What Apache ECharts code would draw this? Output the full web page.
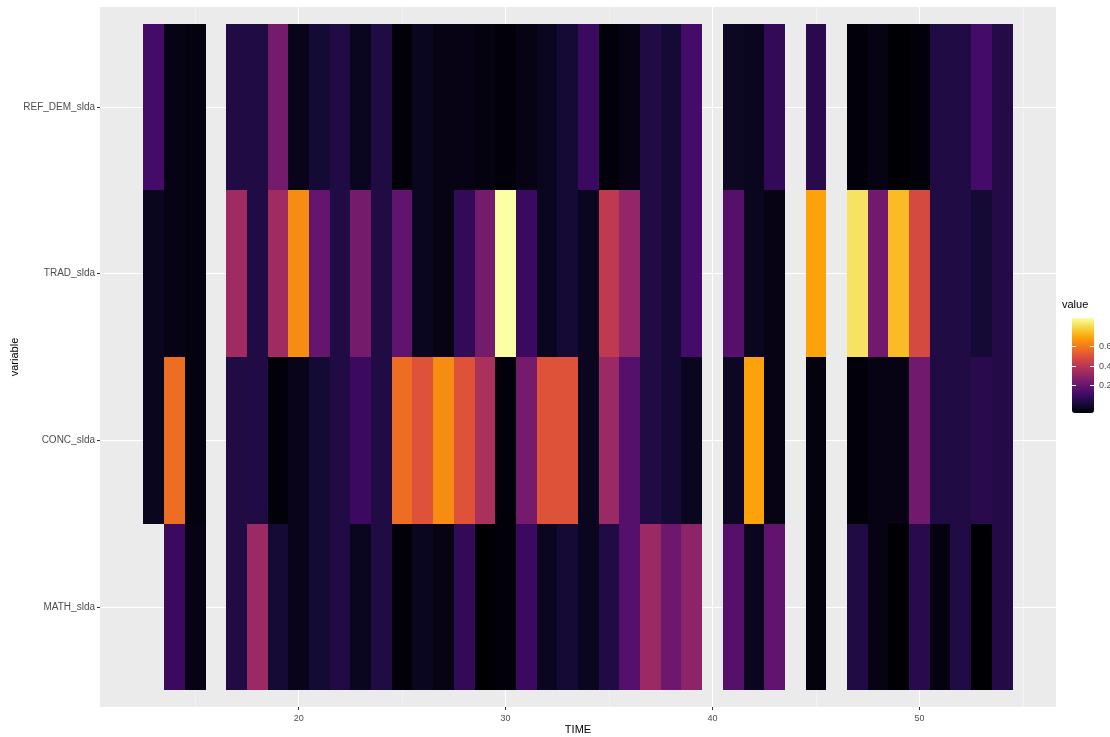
<!DOCTYPE html>
<html>
<head>
<meta charset="utf-8">
<script src="https://cdn.jsdelivr.net/npm/echarts@6/dist/echarts.min.js"></script>
<style>
  html, body { margin: 0; padding: 0; background: #fff; }
  #chart { width: 1110px; height: 737px; }
</style>
</head>
<body>
<div id="chart"></div>
<script>
  // time points that have tiles
  const times = [13, 14, 15, 17, 18, 19, 20, 21, 22, 23, 24, 25, 26, 27, 28, 29, 30, 31, 32, 33, 34, 35, 36, 37, 38, 39, 41, 42, 43, 45, 47, 48, 49, 50, 51, 52, 53, 54];
  // bottom to top
  const variables = ['MATH_slda', 'CONC_slda', 'TRAD_slda', 'REF_DEM_slda'];

  const mathSlda = [null, 0.09, -0.06, 0.03, 0.32, 0.0, -0.05, 0.0, 0.03, -0.04, 0.03, -0.08, -0.04, -0.06, 0.07, -0.09, -0.08, 0.09, -0.04, 0.0, -0.04, 0.03, 0.15, 0.32, 0.21, 0.29, 0.15, -0.04, 0.18, -0.07, 0.03, -0.06, -0.09, 0.05, -0.07, 0.03, -0.09, 0.04];
  const concSlda = [-0.04, 0.57, -0.07, 0.03, 0.03, -0.08, -0.05, 0.0, 0.03, 0.09, 0.03, 0.57, 0.50, 0.64, 0.50, 0.36, -0.08, 0.23, 0.50, 0.50, -0.04, 0.32, 0.15, 0.03, 0.0, -0.04, -0.03, 0.69, -0.06, -0.07, -0.08, -0.06, -0.06, 0.22, 0.03, 0.03, 0.05, 0.04];
  const tradSlda = [-0.04, -0.06, -0.07, 0.33, 0.03, 0.33, 0.64, 0.19, 0.03, 0.23, 0.03, 0.18, -0.04, -0.06, 0.07, 0.23, 0.89, 0.09, -0.04, 0.0, -0.04, 0.41, 0.30, 0.03, 0.0, 0.11, 0.15, -0.04, -0.06, 0.69, 0.82, 0.22, 0.74, 0.47, 0.03, 0.03, 0.0, 0.04];
  const refDemSlda = [0.11, -0.06, -0.07, 0.03, 0.03, 0.23, -0.05, 0.0, 0.03, -0.04, 0.03, -0.08, -0.04, -0.06, -0.06, -0.07, -0.08, -0.06, -0.04, 0.0, 0.09, -0.08, -0.06, 0.03, 0.0, 0.11, -0.03, -0.04, 0.07, 0.05, -0.08, -0.06, -0.09, -0.08, 0.03, 0.03, 0.11, 0.04];

  const xTicks = [20, 30, 40, 50];
  const xMinorTicks = [15, 25, 35, 45, 55];
  const legendTicks = [0.2, 0.4, 0.6];
  const valueMin = -0.09;
  const valueMax = 0.89;

  const inferno = ['#000004', '#160b39', '#420a68', '#6a176e', '#932667', '#bc3754', '#dd513a', '#f37819', '#fca50a', '#f6d746', '#fcffa4'];

  const rows = [mathSlda, concSlda, tradSlda, refDemSlda];
  const tiles = [];
  rows.forEach((vals, r) => {
    vals.forEach((v, i) => {
      if (v !== null) tiles.push([times[i], r, v]);
    });
  });

  const font = 'Liberation Sans, Arial, sans-serif';

  // colourbar placement
  const barLeft = 1072, barTop = 318, barW = 22, barH = 95;
  const barY = (v) => barTop + (valueMax - v) / (valueMax - valueMin) * barH;

  const legendGraphics = [
    { type: 'text', left: 1062, top: 299, style: { text: 'value', fontSize: 11, fill: '#000', fontFamily: font } }
  ];
  legendTicks.forEach((t) => {
    const y = Math.round(barY(t)) + 0.5;
    legendGraphics.push(
      { type: 'line', shape: { x1: barLeft, y1: y, x2: barLeft + 4, y2: y }, style: { stroke: '#fff', lineWidth: 1 }, z: 100 },
      { type: 'line', shape: { x1: barLeft + barW - 4, y1: y, x2: barLeft + barW, y2: y }, style: { stroke: '#fff', lineWidth: 1 }, z: 100 },
      { type: 'text', x: 1099, y: y, style: { text: t.toFixed(1), fontSize: 9, fill: '#4d4d4d', fontFamily: font, verticalAlign: 'middle' } }
    );
  });

  const chart = echarts.init(document.getElementById('chart'));

  const option = {
    animation: false,
    textStyle: { fontFamily: font },
    grid: {
      left: 100, right: 54, top: 7, bottom: 30,
      outerBoundsMode: 'none',
      show: true, backgroundColor: '#ebebeb', borderWidth: 0
    },
    xAxis: [
      {
        type: 'value', min: 10.4, max: 56.6,
        name: 'TIME', nameLocation: 'middle', nameGap: 17, nameMoveOverlap: false,
        nameTextStyle: { fontSize: 11, color: '#000' },
        axisLine: { show: false, onZero: false },
        axisTick: { length: 3, lineStyle: { color: '#333' }, customValues: xTicks },
        axisLabel: { customValues: xTicks, fontSize: 9, color: '#4d4d4d', margin: 7 },
        splitLine: { show: true, lineStyle: { color: '#fff', width: 1.1 } }
      },
      {
        type: 'value', min: 10.4, max: 56.6, position: 'bottom',
        axisLine: { show: false, onZero: false },
        axisTick: { show: false, customValues: xMinorTicks },
        axisLabel: { show: false, customValues: xMinorTicks },
        splitLine: { show: true, lineStyle: { color: '#f7f7f7', width: 0.6 } }
      }
    ],
    yAxis: {
      type: 'value', min: -0.6, max: 3.6,
      name: 'variable', nameLocation: 'middle', nameGap: 80, nameRotate: 90, nameMoveOverlap: false,
      nameTextStyle: { fontSize: 11, color: '#000' },
      axisLine: { show: false, onZero: false },
      axisTick: { length: 3, lineStyle: { color: '#333' }, customValues: [0, 1, 2, 3] },
      axisLabel: {
        customValues: [0, 1, 2, 3], fontSize: 10, color: '#4d4d4d', margin: 5,
        formatter: (v) => variables[Math.round(v)]
      },
      splitLine: { show: true, lineStyle: { color: '#fff', width: 1.1 } }
    },
    visualMap: {
      type: 'continuous',
      min: valueMin, max: valueMax,
      dimension: 2, seriesIndex: 0,
      inRange: { color: inferno },
      calculable: false, hoverLink: false,
      left: barLeft, top: barTop,
      itemWidth: barW, itemHeight: barH,
      padding: 0
    },
    graphic: legendGraphics,
    series: [
      {
        type: 'custom',
        xAxisIndex: 0,
        encode: { x: 0, y: 1 },
        data: tiles,
        renderItem: (params, api) => {
          const a = api.coord([api.value(0) - 0.5, api.value(1) + 0.5]);
          const b = api.coord([api.value(0) + 0.5, api.value(1) - 0.5]);
          const x0 = Math.round(a[0]), x1 = Math.round(b[0]);
          const y0 = Math.round(a[1]), y1 = Math.round(b[1]);
          return {
            type: 'rect',
            shape: { x: x0, y: y0, width: x1 - x0, height: y1 - y0 },
            style: { fill: api.visual('color') }
          };
        }
      }
    ]
  };

  chart.setOption(option);
</script>
</body>
</html>
